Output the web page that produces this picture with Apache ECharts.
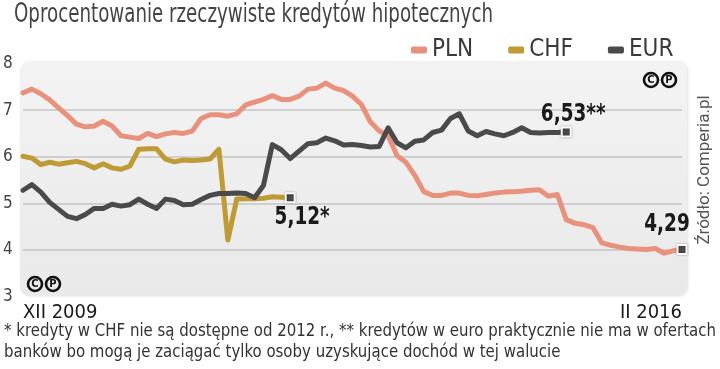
<!DOCTYPE html>
<html><head><meta charset="utf-8">
<script src="https://cdn.jsdelivr.net/npm/echarts@6/dist/echarts.min.js"></script>
<style>html,body{margin:0;padding:0;background:#fff}#c{width:720px;height:369px}</style>
</head><body><div id="c"></div>
<script>
const months = ['XII 2009',
 'I 2010','II 2010','III 2010','IV 2010','V 2010','VI 2010','VII 2010','VIII 2010','IX 2010','X 2010','XI 2010','XII 2010',
 'I 2011','II 2011','III 2011','IV 2011','V 2011','VI 2011','VII 2011','VIII 2011','IX 2011','X 2011','XI 2011','XII 2011',
 'I 2012','II 2012','III 2012','IV 2012','V 2012','VI 2012','VII 2012','VIII 2012','IX 2012','X 2012','XI 2012','XII 2012',
 'I 2013','II 2013','III 2013','IV 2013','V 2013','VI 2013','VII 2013','VIII 2013','IX 2013','X 2013','XI 2013','XII 2013',
 'I 2014','II 2014','III 2014','IV 2014','V 2014','VI 2014','VII 2014','VIII 2014','IX 2014','X 2014','XI 2014','XII 2014',
 'I 2015','II 2015','III 2015','IV 2015','V 2015','VI 2015','VII 2015','VIII 2015','IX 2015','X 2015','XI 2015','XII 2015',
 'I 2016','II 2016'];
const pln = [7.37,7.45,7.35,7.22,7.05,6.88,6.70,6.64,6.66,6.76,
 6.66,6.45,6.42,6.39,6.50,6.43,6.49,6.52,6.50,6.55,
 6.82,6.90,6.90,6.87,6.92,7.11,7.17,7.23,7.31,7.23,
 7.23,7.30,7.45,7.47,7.58,7.47,7.42,7.30,7.12,6.75,
 6.55,6.45,6.02,5.88,5.60,5.25,5.17,5.17,5.22,5.22,
 5.17,5.16,5.19,5.22,5.24,5.25,5.26,5.28,5.29,5.15,
 5.19,4.65,4.57,4.54,4.48,4.15,4.10,4.06,4.03,4.02,
 4.01,4.03,3.93,3.98,4.01];
const chf = [6.01,5.97,5.83,5.88,5.84,5.87,5.90,5.85,5.76,5.85,
 5.76,5.73,5.80,6.16,6.17,6.17,5.95,5.89,5.93,5.92,
 5.93,5.95,6.16,4.21,5.09,5.10,5.10,5.11,5.14,5.13,
 5.12];
const eur = [5.28,5.40,5.24,5.02,4.87,4.72,4.67,4.76,4.89,4.89,
 4.98,4.94,4.97,5.09,4.98,4.89,5.09,5.06,4.97,4.98,
 5.08,5.17,5.21,5.21,5.22,5.21,5.12,5.38,6.26,6.15,
 5.96,6.12,6.28,6.30,6.40,6.34,6.25,6.26,6.24,6.21,
 6.22,6.62,6.30,6.19,6.33,6.36,6.52,6.57,6.82,6.92,
 6.55,6.45,6.54,6.49,6.45,6.52,6.62,6.52,6.51,6.52,
 6.52,6.53];
const seriesNames = ['PLN','CHF','EUR'];
const seriesColors = ['#e8927e','#bf9b35','#4a4a4a'];
const endLabels = ['4,29','5,12*','6,53**'];
const yMin = 3, yMax = 8, yStep = 1;
const titleText = 'Oprocentowanie rzeczywiste kredytów hipotecznych';
const note1 = '* kredyty w CHF nie są dostępne od 2012 r., ** kredytów w euro praktycznie nie ma w ofertach';
const note2 = 'banków bo mogą je zaciągać tylko osoby uzyskujące dochód w tej walucie';
const sourceText = 'Źródło: Comperia.pl';

const F = "'DejaVu Sans Condensed','DejaVu Sans',sans-serif";
const dataSets = [pln, chf, eur];
// label offsets from the end marker, in px
const labelShift = [[-15, -25], [12, 20], [7, -18]];

function withEnd(arr) {
  return arr.map((v, i) => i === arr.length - 1 ? {
    value: v, symbol: 'rect', symbolSize: 9,
    itemStyle: {color: '#4a4a4a', borderColor: '#ffffff', borderWidth: 2, shadowColor: 'rgba(0,0,0,0.35)', shadowBlur: 2}
  } : v);
}

function copyMark(x, y) {
  const mk = (cx, ch) => [
    {type: 'circle', shape: {cx: cx, cy: y, r: 7}, style: {fill: 'none', stroke: '#111', lineWidth: 2.6}, z: 20},
    {type: 'text', x: cx, y: y + 0.5, style: {text: ch, font: 'bold 11px ' + F, fill: '#111', align: 'center', verticalAlign: 'middle'}, z: 20}
  ];
  return {type: 'group', children: mk(x, 'C').concat(mk(x + 18, 'P'))};
}

const chart = echarts.init(document.getElementById('c'), null, {renderer: 'canvas'});
const baseGraphic = [
  {type: 'rect', shape: {x: 20, y: 62, width: 667, height: 234, r: 9}, z: -100,
   style: {fill: new echarts.graphic.LinearGradient(0, 0, 0, 1, [{offset: 0, color: '#f3f3f3'}, {offset: 1, color: '#e9e9e9'}]),
           shadowColor: 'rgba(0,0,0,0.12)', shadowBlur: 3, shadowOffsetX: 1}},
  {type: 'text', x: 14, y: 2, scaleX: 0.78, style: {text: titleText, font: '26px ' + F, fill: '#444'}},
  {type: 'text', x: 4, y: 322, scaleX: 0.925, style: {text: note1, font: '18px ' + F, fill: '#333'}},
  {type: 'text', x: 4, y: 343, scaleX: 0.925, style: {text: note2, font: '18px ' + F, fill: '#333'}},
  {type: 'text', x: 713, y: 170, rotation: Math.PI / 2,
   style: {text: sourceText, font: '17px Roboto, sans-serif', fill: '#555', align: 'center', verticalAlign: 'bottom'}},
  copyMark(651, 80),
  copyMark(35, 284)
];
chart.setOption({
  animation: false,
  backgroundColor: '#ffffff',
  legend: {
    data: seriesNames, left: 406, top: 33, icon: 'roundRect', itemWidth: 16, itemHeight: 7, itemGap: 35,
    textStyle: {fontFamily: F, fontSize: 24, color: '#3a3a3a'}
  },
  grid: {left: 22, right: 38, top: 63.5, bottom: 72.5},
  xAxis: {
    type: 'category', data: months, boundaryGap: false,
    axisLine: {show: false}, axisTick: {show: false}, splitLine: {show: false},
    axisLabel: {
      interval: (i) => i === 0 || i === months.length - 1,
      showMinLabel: true, showMaxLabel: true, alignMinLabel: 'left', alignMaxLabel: 'right',
      margin: 6, fontFamily: F, fontSize: 20, fontWeight: 500, color: '#1a1a1a'
    }
  },
  yAxis: {
    type: 'value', min: yMin, max: yMax, interval: yStep,
    axisLine: {show: false}, axisTick: {show: false},
    axisLabel: {align: 'left', margin: 20, fontFamily: F, fontSize: 17, color: '#444', padding: [6, 0, 0, 0]},
    splitLine: {lineStyle: {color: ['rgba(0,0,0,0)', '#c4c4c4', '#c4c4c4', '#c4c4c4', '#c4c4c4', 'rgba(0,0,0,0)'], width: 1.5}}
  },
  graphic: baseGraphic,
  series: seriesNames.map((n, k) => ({
    name: n, type: 'line', data: withEnd(dataSets[k]),
    symbol: 'none', showSymbol: true, showAllSymbol: true, color: seriesColors[k],
    lineStyle: {width: 5, color: seriesColors[k], cap: 'round', join: 'round'},
    z: 3 + k
  }))
});
// end value labels placed from the library's own coordinate conversion
const endTexts = dataSets.map((d, k) => {
  const p = chart.convertToPixel({seriesIndex: k}, [d.length - 1, d[d.length - 1]]);
  return {type: 'text', x: p[0] + labelShift[k][0], y: p[1] + labelShift[k][1], scaleX: 0.82, z: 30,
    style: {text: endLabels[k], font: 'bold 25px ' + F, fill: '#1a1a1a', align: 'center', verticalAlign: 'middle'}};
});
chart.setOption({graphic: baseGraphic.concat(endTexts)});
</script></body></html>
